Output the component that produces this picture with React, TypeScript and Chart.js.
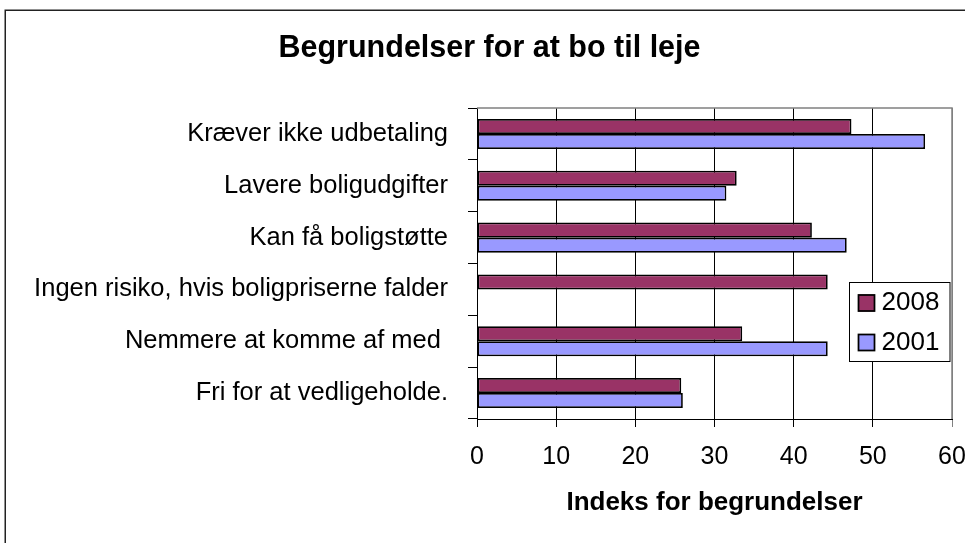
import React, { useEffect, useRef } from 'react';
import { Chart, registerables } from 'chart.js';

Chart.register(...registerables);

const categories = [
  'Kræver ikke udbetaling',
  'Lavere boligudgifter',
  'Kan få boligstøtte',
  'Ingen risiko, hvis boligpriserne falder',
  'Nemmere at komme af med ',
  'Fri for at vedligeholde.',
];
const seriesLabels = ['2008', '2001'];
const values2008 = [47.3, 32.8, 42.3, 44.3, 33.5, 25.8];
const values2001 = [56.6, 31.5, 46.7, null, 44.3, 26.0];
const xTickValues = [0, 10, 20, 30, 40, 50, 60];
const chartTitle = 'Begrundelser for at bo til leje';
const xAxisTitle = 'Indeks for begrundelser';

const FONT = '"Liberation Sans", Arial, Helvetica, sans-serif';

const framePlugin = {
  id: 'frame',
  beforeDatasetsDraw(chart: any) {
    const { ctx, chartArea } = chart;
    ctx.save();
    ctx.strokeStyle = '#808080';
    ctx.lineWidth = 1.5;
    ctx.beginPath();
    ctx.moveTo(chartArea.left, chartArea.top);
    ctx.lineTo(chartArea.right, chartArea.top);
    ctx.lineTo(chartArea.right, chartArea.bottom);
    ctx.stroke();
    ctx.restore();
  },
  afterDraw(chart: any) {
    const { ctx } = chart;
    ctx.save();
    ctx.strokeStyle = '#222';
    ctx.lineWidth = 1.5;
    ctx.strokeRect(5.25, 10.25, 2000, 2000);
    ctx.restore();
  },
};

const legendPlugin = {
  id: 'insideLegend',
  afterDatasetsDraw(chart: any) {
    const { ctx, chartArea } = chart;
    const bw = 100.5;
    const bx = chartArea.right - 2 - bw;
    const by = 282.5;
    const bh = 79;
    ctx.save();
    ctx.fillStyle = '#fff';
    ctx.fillRect(bx, by, bw, bh);
    ctx.strokeStyle = '#000';
    ctx.lineWidth = 1;
    ctx.strokeRect(bx, by, bw, bh);
    ctx.font = `26px ${FONT}`;
    ctx.textBaseline = 'middle';
    ctx.textAlign = 'left';
    chart.data.datasets.forEach((ds: any, i: number) => {
      const cy = 303 + i * 39.5;
      ctx.fillStyle = ds.backgroundColor;
      ctx.fillRect(bx + 8.5, cy - 8.5, 17, 17);
      ctx.lineWidth = 1.75;
      ctx.strokeStyle = '#000';
      ctx.strokeRect(bx + 9, cy - 8, 16, 16);
      ctx.fillStyle = '#000';
      ctx.fillText(ds.label, bx + 32, cy);
    });
    ctx.restore();
  },
};

export default function App() {
  const canvasRef = useRef<HTMLCanvasElement | null>(null);

  useEffect(() => {
    const canvas = canvasRef.current;
    if (!canvas) return;
    const chart = new Chart(canvas, {
      type: 'bar',
      data: {
        labels: categories,
        datasets: [
          {
            label: seriesLabels[0],
            data: values2008,
            backgroundColor: '#993366',
            borderColor: '#000',
            borderWidth: 1.75,
            borderSkipped: false,
            categoryPercentage: 0.58,
            barPercentage: 1.0,
          },
          {
            label: seriesLabels[1],
            data: values2001,
            backgroundColor: '#9999FF',
            borderColor: '#000',
            borderWidth: 1.75,
            borderSkipped: false,
            categoryPercentage: 0.58,
            barPercentage: 1.0,
          },
        ],
      },
      options: {
        indexAxis: 'y',
        responsive: false,
        animation: false,
        devicePixelRatio: 1,
        layout: { padding: { left: 27, right: 13, top: 0, bottom: 0 } },
        plugins: {
          legend: { display: false },
          tooltip: { enabled: false },
          title: {
            display: true,
            text: chartTitle,
            color: '#000',
            font: { family: FONT, size: 30.5, weight: 'bold', lineHeight: 1.2 },
            padding: { top: 30.5, bottom: 41 },
          },
        },
        scales: {
          x: {
            type: 'linear',
            position: 'bottom',
            min: 0,
            max: 60,
            afterBuildTicks: (s: any) => {
              s.ticks = xTickValues.map((v) => ({ value: v }));
            },
            afterFit: (s: any) => {
              s.height = 124;
              s.paddingLeft = 0;
              s.paddingRight = 0;
            },
            ticks: {
              color: '#000',
              font: { family: FONT, size: 25, lineHeight: 1.2 },
              padding: 15,
              maxRotation: 0,
              autoSkip: false,
            },
            grid: {
              color: (c: any) => (c.tick && c.tick.value === 60 ? '#808080' : '#000'),
              lineWidth: 1,
              tickLength: 8,
              drawTicks: true,
            },
            border: { display: true, color: '#000', width: 1 },
            title: {
              display: true,
              text: xAxisTitle,
              color: '#000',
              font: { family: FONT, size: 26, weight: 'bold', lineHeight: 1.2 },
              padding: { top: 0, bottom: 25 },
            },
          },
          y: {
            type: 'category',
            afterFit: (s: any) => {
              s.width = 450;
            },
            ticks: {
              color: '#000',
              font: { family: FONT, size: 25.5, lineHeight: 1.2 },
              padding: 20,
              autoSkip: false,
            },
            grid: {
              drawOnChartArea: false,
              drawTicks: true,
              tickLength: 9,
              color: '#000',
              offset: true,
            },
            border: { display: true, color: '#000', width: 1 },
          },
        },
      },
      plugins: [framePlugin, legendPlugin],
    } as any);
    return () => chart.destroy();
  }, []);

  return (
    <div
      style={{
        position: 'fixed',
        left: 0,
        top: 0,
        width: 965,
        height: 543,
        overflow: 'hidden',
        background: '#fff',
      }}
    >
      <canvas ref={canvasRef} width={965} height={543} style={{ display: 'block' }} />
    </div>
  );
}
